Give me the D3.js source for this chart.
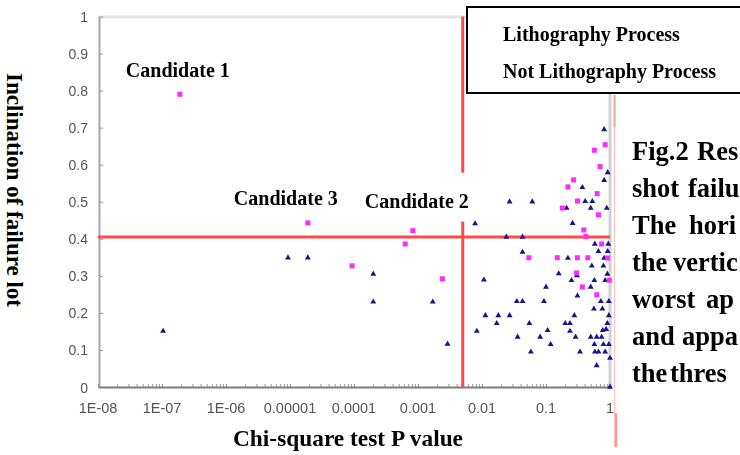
<!DOCTYPE html>
<html>
<head>
<meta charset="utf-8">
<script src="https://cdn.jsdelivr.net/npm/d3@7"></script>
<style>
body { margin: 0; background: #fff; }
svg { display: block; }
.serif { font-family: "Liberation Serif", "Times New Roman", serif; font-weight: bold; fill: #000; }
</style>
</head>
<body>
<svg id="chart" width="740" height="455"></svg>
<script>
// series names (legend)
var seriesNames = ["Lithography Process", "Not Lithography Process"];

// Lithography Process: chi-square P value / inclination of failure lot
var lithoP = [1.9e-7, 1.9e-5, 8.3e-4, 6.3e-4, 9.3e-5, 2.4e-3,
    0.84, 0.57, 0.70, 0.27, 0.22, 0.63, 0.31, 0.18, 0.66, 0.39, 0.42, 0.74,
    0.054, 0.15, 0.31, 0.45, 0.92, 0.30, 0.975, 0.37, 0.62];
var lithoIncl = [0.79, 0.443, 0.422, 0.386, 0.327, 0.292,
    0.654, 0.639, 0.595, 0.559, 0.540, 0.522, 0.502, 0.483, 0.465, 0.424, 0.406, 0.386,
    0.349, 0.349, 0.349, 0.349, 0.348, 0.308, 0.288, 0.270, 0.249];

// Not Lithography Process
var otherP = [1.04e-7, 9.3e-6, 1.9e-5, 2.0e-4, 2.0e-4, 1.7e-3, 2.9e-3, 7.8e-3, 8.3e-3,
    0.81, 0.92, 0.81, 0.37, 0.027, 0.061, 0.41, 0.53, 0.21, 0.50, 0.89,
    0.26, 0.024, 0.043, 0.58, 0.94, 0.043, 0.22, 0.66, 0.92, 0.81,
    0.52, 0.79, 0.0107, 0.158, 0.305, 0.25, 0.57, 0.84, 0.91, 0.10,
    0.50, 0.31, 0.035, 0.043, 0.093, 0.72, 0.96, 0.56, 0.76, 0.0113,
    0.018, 0.027, 0.277, 0.96, 0.017, 0.055, 0.20, 0.237, 0.91, 0.106,
    0.237, 0.77, 0.87, 0.036, 0.081, 0.29, 0.50, 0.62, 0.74, 0.118,
    0.57, 0.79, 0.96, 0.058, 0.34, 0.58, 0.66, 0.84, 1.0, 0.62, 1.0];
var otherIncl = [0.151, 0.349, 0.349, 0.305, 0.230, 0.230, 0.116, 0.441, 0.151,
    0.695, 0.579, 0.558, 0.539, 0.50, 0.50, 0.501, 0.501, 0.483, 0.483, 0.483,
    0.442, 0.405, 0.405, 0.386, 0.386, 0.364, 0.348, 0.366, 0.366, 0.348,
    0.327, 0.327, 0.289, 0.306, 0.301, 0.288, 0.288, 0.288, 0.305, 0.270,
    0.270, 0.246, 0.231, 0.231, 0.231, 0.231, 0.231, 0.211, 0.211, 0.193,
    0.193, 0.193, 0.193, 0.193, 0.172, 0.172, 0.172, 0.172, 0.172, 0.153,
    0.151, 0.153, 0.156, 0.135, 0.135, 0.135, 0.135, 0.135, 0.135, 0.115,
    0.115, 0.115, 0.115, 0.095, 0.095, 0.095, 0.095, 0.095, 0.078, 0.058, 0.0];

// candidates (index into lithography series)
var candidateNames = ["Candidate 1", "Candidate 3", "Candidate 2"];
var candidateIdx = [0, 1, 2];

// thresholds (red lines)
var thresholdP = 0.005;
var thresholdIncl = 0.405;

// ticks
var xTickValues = [1e-8, 1e-7, 1e-6, 1e-5, 1e-4, 1e-3, 1e-2, 1e-1, 1];
var xTickLabels = ["1E-08", "1E-07", "1E-06", "0.00001", "0.0001", "0.001", "0.01", "0.1", "1"];
var yTickValues = [0, 0.1, 0.2, 0.3, 0.4, 0.5, 0.6, 0.7, 0.8, 0.9, 1];
var yTickLabels = ["0", "0.1", "0.2", "0.3", "0.4", "0.5", "0.6", "0.7", "0.8", "0.9", "1"];

var xTitle = "Chi-square test P value";
var yTitle = "Inclination of failure lot";

// caption fragments visible at right (two words per line)
var captionLines = [["Fig.2", "Res"], ["shot", "failu"], ["The", "hori"], ["the", "vertic"],
                    ["worst", "ap"], ["and", "appa"], ["the", "thres"]];

var svg = d3.select("#chart");

var defs = svg.append("defs");
defs.append("filter").attr("id", "soft")
    .append("feGaussianBlur").attr("stdDeviation", 0.6);
defs.append("filter").attr("id", "soft2")
    .append("feGaussianBlur").attr("stdDeviation", 0.4);

var x = d3.scaleLog().domain([1e-8, 1]).range([98, 610]);
var y = d3.scaleLinear().domain([0, 1]).range([387, 16.5]);

// frame
svg.append("line").attr("x1", 98).attr("x2", 610).attr("y1", 17).attr("y2", 17)
    .attr("stroke", "#e4e4e4").attr("stroke-width", 3);
svg.append("line").attr("x1", 610).attr("x2", 610).attr("y1", 17).attr("y2", 387)
    .attr("stroke", "#d2d2d2").attr("stroke-width", 3);

// light pink border lines at right
svg.append("line").attr("x1", 614.5).attr("x2", 614.5).attr("y1", 95).attr("y2", 447)
    .attr("stroke", "#ffc4c4").attr("stroke-width", 1.2);
svg.append("line").attr("x1", 614.5).attr("x2", 614.5).attr("y1", 95).attr("y2", 127)
    .attr("stroke", "#ff9a9a").attr("stroke-width", 2);
svg.append("line").attr("x1", 616).attr("x2", 616).attr("y1", 413).attr("y2", 447)
    .attr("stroke", "#ff9a9a").attr("stroke-width", 2.5);

// y axis
var yAxis = svg.append("g")
    .attr("transform", "translate(99,0)")
    .call(d3.axisLeft(y).tickValues(yTickValues)
          .tickSizeInner(-4).tickSizeOuter(0).tickPadding(11)
          .tickFormat(function(d, i) { return yTickLabels[i]; }));
yAxis.select(".domain").attr("stroke", "#a8a8a8").attr("stroke-width", 2);
yAxis.selectAll(".tick line").attr("stroke", "#999");
yAxis.selectAll(".tick text")
    .attr("font-family", "Liberation Sans, Arial, sans-serif")
    .attr("font-size", 14).attr("fill", "#555").attr("dy", "0.36em")
    .attr("filter", "url(#soft)");

// x axis: minor ticks
var minor = [];
xTickValues.forEach(function(v, i) {
    if (i < xTickValues.length - 1) {
        for (var k = 2; k <= 9; k++) minor.push(v * k);
    }
});
var xAxis = svg.append("g")
    .attr("transform", "translate(0,387)")
    .call(d3.axisBottom(x).tickValues(xTickValues.concat(minor))
          .tickSizeInner(-3).tickSizeOuter(0).tickFormat(""));
xAxis.select(".domain").attr("stroke", "#7a7a7a").attr("stroke-width", 2);
xAxis.selectAll(".tick line").attr("stroke", "#999");

svg.append("g").attr("filter", "url(#soft)")
    .selectAll("text").data(xTickValues).enter().append("text")
    .attr("x", function(d) { return x(d); })
    .attr("y", 413)
    .attr("text-anchor", "middle")
    .attr("font-family", "Liberation Sans, Arial, sans-serif")
    .attr("font-size", 14.5).attr("fill", "#555")
    .text(function(d, i) { return xTickLabels[i]; });

// threshold lines
svg.append("line")
    .attr("x1", x(1e-8)).attr("x2", x(1)).attr("y1", y(thresholdIncl)).attr("y2", y(thresholdIncl))
    .attr("stroke", "#ff4a4a").attr("stroke-width", 3);
svg.append("line")
    .attr("x1", x(thresholdP)).attr("x2", x(thresholdP)).attr("y1", y(1)).attr("y2", y(0))
    .attr("stroke", "#ff4a4a").attr("stroke-width", 3);

// points
var lithoData = lithoP.map(function(p, i) { return { p: p, v: lithoIncl[i] }; });
var otherData = otherP.map(function(p, i) { return { p: p, v: otherIncl[i] }; });

var tri = d3.symbol().type(d3.symbolTriangle).size(15);
svg.append("g").attr("filter", "url(#soft2)")
    .selectAll("path").data(otherData).enter().append("path")
    .attr("d", tri)
    .attr("transform", function(d) { return "translate(" + x(d.p) + "," + y(d.v) + ")"; })
    .attr("fill", "#16168a");

svg.append("g").attr("filter", "url(#soft2)")
    .selectAll("rect").data(lithoData).enter().append("rect")
    .attr("x", function(d) { return x(d.p) - 2.5; })
    .attr("y", function(d) { return y(d.v) - 2.5; })
    .attr("width", 5).attr("height", 5)
    .attr("fill", "#ff2bff");

// candidate labels
var labelOff = [[-2, -17], [-22, -18], [4, -23]];
candidateIdx.forEach(function(idx, i) {
    var cx = x(lithoP[idx]) + labelOff[i][0];
    var cy = y(lithoIncl[idx]) + labelOff[i][1];
    if (i === 2) {
        // white box behind label covers the red line
        svg.append("rect").attr("x", cx - 57).attr("y", cy - 35)
            .attr("width", 112).attr("height", 49).attr("fill", "#fff");
    }
    svg.append("text").attr("class", "serif")
        .attr("x", cx).attr("y", cy)
        .attr("text-anchor", "middle")
        .attr("font-size", 20)
        .attr("textLength", 104).attr("lengthAdjust", "spacingAndGlyphs")
        .text(candidateNames[i]);
});

// legend box
svg.append("rect").attr("x", 467).attr("y", 7).attr("width", 290).attr("height", 86)
    .attr("fill", "#fff").attr("stroke", "#000").attr("stroke-width", 2);
svg.selectAll(".leg").data(seriesNames).enter().append("text")
    .attr("class", "serif leg")
    .attr("x", 503)
    .attr("y", function(d, i) { return 41 + i * 37; })
    .attr("font-size", 20)
    .text(function(d) { return d; });

// axis titles
svg.append("text").attr("class", "serif")
    .attr("x", 348).attr("y", 446).attr("text-anchor", "middle")
    .attr("font-size", 23)
    .attr("textLength", 230).attr("lengthAdjust", "spacingAndGlyphs")
    .text(xTitle);
svg.append("text").attr("class", "serif")
    .attr("transform", "translate(7,190) rotate(90)")
    .attr("text-anchor", "middle")
    .attr("font-size", 23)
    .attr("textLength", 234).attr("lengthAdjust", "spacingAndGlyphs")
    .text(yTitle);

// caption fragments on the right
var secondX = [697, 688, 689, 673, 706, 682, 670];
captionLines.forEach(function(words, i) {
    var t = svg.append("text").attr("class", "serif")
        .attr("y", 160 + i * 37).attr("font-size", 26.5);
    t.append("tspan").attr("x", 632).text(words[0]);
    t.append("tspan").attr("x", secondX[i]).text(words[1]);
});
</script>
</body>
</html>
